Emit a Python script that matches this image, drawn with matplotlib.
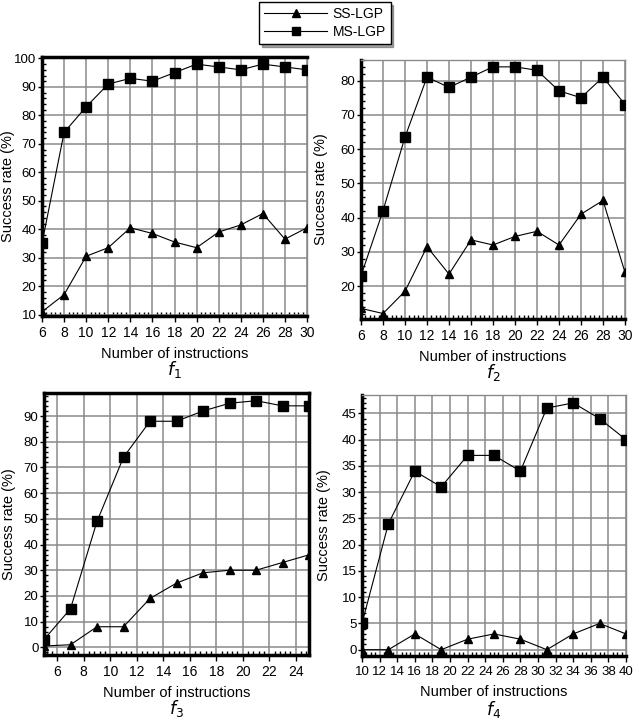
import matplotlib
matplotlib.use("Agg")
import matplotlib.pyplot as plt
from matplotlib.ticker import AutoMinorLocator, MultipleLocator
from matplotlib.lines import Line2D

plt.rcParams['font.family'] = ['Liberation Sans', 'DejaVu Sans']

# ---- data ----
x1 = [6, 8, 10, 12, 14, 16, 18, 20, 22, 24, 26, 28, 30]
ms1 = [35, 74, 83, 91, 93, 92, 95, 98, 97, 96, 98, 97, 96]
ss1 = [11, 17, 30.5, 33.5, 40.5, 38.5, 35.5, 33.5, 39, 41.5, 45.5, 36.5, 40.5]

x2 = [6, 8, 10, 12, 14, 16, 18, 20, 22, 24, 26, 28, 30]
ms2 = [23, 42, 63.5, 81, 78, 81, 84, 84, 83, 77, 75, 81, 73]
ss2 = [13.5, 12, 18.5, 31.5, 23.5, 33.5, 32, 34.5, 36, 32, 41, 45, 24]

x3 = [5, 7, 9, 11, 13, 15, 17, 19, 21, 23, 25]
ms3 = [3, 15, 49, 74, 88, 88, 92, 95, 96, 94, 94]
ss3 = [0.5, 1, 8, 8, 19, 25, 29, 30, 30, 33, 36]

x4 = [10, 13, 16, 19, 22, 25, 28, 31, 34, 37, 40]
ms4 = [5, 24, 34, 31, 37, 37, 34, 46, 47, 44, 40]
ss4 = [0, 0, 3, 0, 2, 3, 2, 0, 3, 5, 3]

titles = ['$f_1$', '$f_2$', '$f_3$', '$f_4$']
series_names = ['SS-LGP', 'MS-LGP']

fig = plt.figure(figsize=(6.33, 7.28), dpi=100)

W, H = 633.0, 728.0
def ax_at(l, r, t, b):
    return fig.add_axes([l / W, 1 - b / H, (r - l) / W, (b - t) / H])

panels = [
    dict(box=(42, 307, 57, 316), x=x1, ms=ms1, ss=ss1, xlim=(6, 30), ylim=(9.5, 100.5),
         xt=list(range(6, 31, 2)), ymaj=10, thick=('left', 'bottom', 'top'), ylx=-0.102),
    dict(box=(361, 625, 60, 319), x=x2, ms=ms2, ss=ss2, xlim=(6, 30), ylim=(10.4, 86),
         xt=list(range(6, 31, 2)), ymaj=10, thick=('left', 'bottom'), ylx=-0.125),
    dict(box=(44, 309, 393, 655), x=x3, ms=ms3, ss=ss3, xlim=(5, 25), ylim=(-3, 99),
         xt=list(range(6, 25, 2)), ymaj=10, thick=('left', 'bottom', 'top', 'right'), ylx=-0.106),
    dict(box=(362, 626, 395, 656), x=x4, ms=ms4, ss=ss4, xlim=(10, 40), ylim=(-1.2, 48.5),
         xt=list(range(10, 41, 2)), ymaj=5, thick=('left', 'bottom'), ylx=-0.117),
]

for i, p in enumerate(panels):
    ax = ax_at(*p['box'])
    ax.plot(p['x'], p['ms'], color='black', lw=0.8, marker='s', ms=6.5,
            markerfacecolor='black', markeredgecolor='black', clip_on=True, zorder=3)
    ax.plot(p['x'], p['ss'], color='black', lw=0.8, marker='^', ms=5.5,
            markerfacecolor='black', markeredgecolor='black', clip_on=True, zorder=3)
    ax.set_xlim(*p['xlim'])
    ax.set_ylim(*p['ylim'])
    ax.set_xticks(p['xt'])
    ax.yaxis.set_major_locator(MultipleLocator(p['ymaj']))
    ax.xaxis.set_minor_locator(AutoMinorLocator(5 if i < 3 else 4))
    ax.yaxis.set_minor_locator(AutoMinorLocator(5))
    ax.grid(True, which='major', color='#8a8a8a', lw=1.1)
    ax.set_axisbelow(True)
    ax.tick_params(which='major', direction='out', length=4, width=1, labelsize=10, pad=3)
    ax.tick_params(axis='y', which='major', length=3, labelsize=9.5, pad=1)
    ax.tick_params(which='minor', direction='in', length=3, width=1)
    if i == 3:
        ax.tick_params(axis='x', which='major', labelsize=9.5, pad=3)
    for s in ['left', 'bottom', 'top', 'right']:
        if s in p['thick']:
            ax.spines[s].set_linewidth(2.5)
            ax.spines[s].set_color('black')
        else:
            ax.spines[s].set_linewidth(1.0)
            ax.spines[s].set_color('#8a8a8a')
    ax.set_ylabel('Success rate (%)', fontsize=10.5)
    ax.yaxis.set_label_coords(p['ylx'], 0.5)
    ax.set_xlabel('Number of instructions', fontsize=10.5, labelpad=5)
    ax.text(0.5, -0.165, titles[i], transform=ax.transAxes, ha='center', va='top',
            fontsize=12.5)

handles = [
    Line2D([], [], color='black', lw=0.8, marker='^', ms=6, markerfacecolor='black'),
    Line2D([], [], color='black', lw=0.8, marker='s', ms=6, markerfacecolor='black'),
]
leg = fig.legend(handles, series_names, loc='upper center', bbox_to_anchor=(325 / W, 1 - 2 / H),
                 frameon=True, fancybox=False, shadow=True, edgecolor='black',
                 fontsize=10, handlelength=4.5, borderpad=0.35, labelspacing=0.3,
                 handletextpad=0.4, borderaxespad=0)
leg.get_frame().set_linewidth(1.0)

fig.savefig('out.png', dpi=100)
